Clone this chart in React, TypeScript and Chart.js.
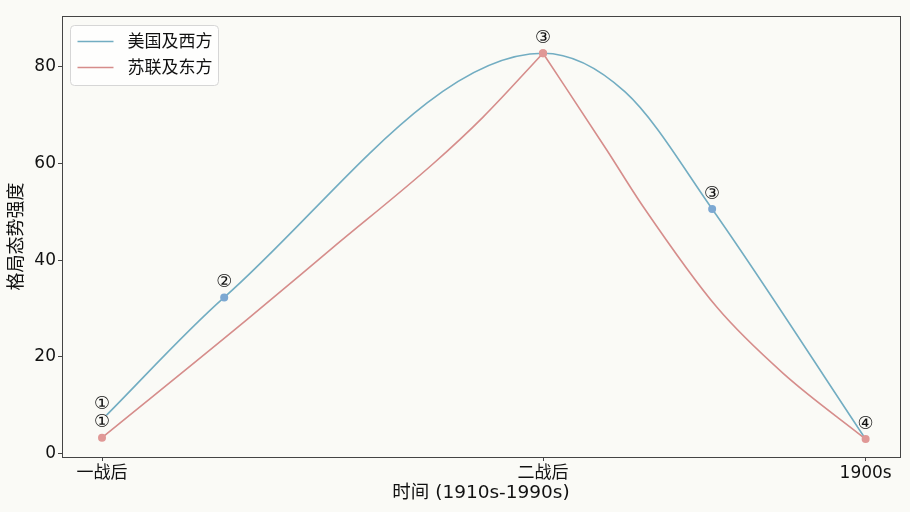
import React, { useEffect, useRef } from 'react';
import { Chart, registerables } from 'chart.js';

Chart.register(...registerables);

// ---- data ----
const seriesNames = ['美国及西方', '苏联及东方'];
const xTickValues = [0, 57.75, 100];
const xTickLabels = ['一战后', '二战后', '1900s'];
const yTickValues = [0, 20, 40, 60, 80];
const xTitle = '时间 (1910s-1990s)';
const yTitle = '格局态势强度';

const westX = [0, 16.0, 57.75, 68.5, 79.9, 100];
const westY = [7.0, 32.3, 82.8, 74.8, 50.6, 3.0];
const westMarked = [false, true, false, false, true, false];
const westNotes = ['①', '②', '', '', '③', ''];

const eastX = [0, 18.9, 30.3, 43.4, 49.9, 57.75, 66.1, 70.9, 80.5, 89.2, 100];
const eastY = [3.3, 27.6, 42.7, 60.0, 69.6, 82.8, 62.8, 51.0, 30.3, 16.6, 3.0];
const eastMarked = [true, false, false, false, false, true, false, false, false, false, true];
const eastNotes = ['①', '', '', '', '', '③', '', '', '', '', '④'];

const X_MIN = -5.24;
const X_MAX = 104.5;
const Y_MIN = -0.7;
const Y_MAX = 90.5;

export default function App() {
  const ref = useRef<HTMLCanvasElement>(null);

  useEffect(() => {
    const canvas = ref.current!;
    const BG = '#fafaf6';
    const FAMILY = "'DejaVu Sans', 'Noto Sans CJK SC', sans-serif";
    const BLUE = '#72adc2';
    const BLUE_PT = '#7ca8d2';
    const RED = '#d68d8b';
    const RED_PT = '#e09896';
    const AXIS = '#444';

    const pts = (xs: number[], ys: number[], from: number, to: number) =>
      xs.slice(from, to).map((x, i) => ({ x, y: ys[from + i] }));
    const peak = eastY.indexOf(Math.max(...eastY));

    const bgPlugin = {
      id: 'bg',
      beforeDraw(chart: any) {
        const c = chart.ctx;
        c.save();
        c.fillStyle = BG;
        c.fillRect(0, 0, chart.width, chart.height);
        c.restore();
      },
    };

    const framePlugin = {
      id: 'frame',
      afterDraw(chart: any) {
        const { left, right, top, bottom } = chart.chartArea;
        const c = chart.ctx;
        c.save();
        c.strokeStyle = AXIS;
        c.lineWidth = 1;
        c.strokeRect(Math.round(left) + 0.5, Math.round(top) + 0.5, Math.round(right - left), Math.round(bottom - top));
        c.restore();
      },
    };

    const notesPlugin = {
      id: 'notes',
      afterDatasetsDraw(chart: any) {
        const c = chart.ctx;
        const xs = chart.scales.x;
        const ys = chart.scales.y;
        c.save();
        c.font = `18px ${FAMILY}`;
        c.textAlign = 'center';
        c.textBaseline = 'middle';
        const draw = (X: number[], Y: number[], notes: string[]) => {
          notes.forEach((n, i) => {
            if (!n) return;
            const px = xs.getPixelForValue(X[i]);
            const py = ys.getPixelForValue(Y[i]) - 16;
            c.fillStyle = BG;
            c.beginPath();
            c.arc(px, py, 8, 0, Math.PI * 2);
            c.fill();
            c.fillStyle = '#111';
            c.fillText(n, px, py + 1);
          });
        };
        draw(westX, westY, westNotes);
        draw(eastX, eastY, eastNotes);
        c.restore();
      },
    };

    const legendPlugin = {
      id: 'customLegend',
      afterDraw(chart: any) {
        const c = chart.ctx;
        const { left, top } = chart.chartArea;
        const bx = left + 8.5;
        const by = top + 9.5;
        const bw = 148;
        const bh = 60;
        c.save();
        c.fillStyle = 'rgba(255,255,255,0.8)';
        c.strokeStyle = '#d6d6d6';
        c.lineWidth = 1;
        c.beginPath();
        (c as any).roundRect(bx, by, bw, bh, 4);
        c.fill();
        c.stroke();
        const colors = [BLUE, RED];
        c.font = `17px ${FAMILY}`;
        c.textBaseline = 'middle';
        c.textAlign = 'left';
        seriesNames.forEach((name, i) => {
          const ly = by + 16 + i * 26;
          c.strokeStyle = colors[i];
          c.lineWidth = 1.5;
          c.beginPath();
          c.moveTo(bx + 7, ly);
          c.lineTo(bx + 43, ly);
          c.stroke();
          c.fillStyle = '#111';
          c.fillText(name, bx + 57, ly + 1);
        });
        c.restore();
      },
    };

    const common = {
      borderWidth: 1.6,
      pointBorderWidth: 0,
      cubicInterpolationMode: 'monotone',
      fill: false,
    };

    const chart = new Chart(canvas, {
      type: 'line',
      data: {
        datasets: [
          {
            ...common,
            label: seriesNames[1],
            data: pts(eastX, eastY, 0, peak + 1),
            borderColor: RED,
            pointBackgroundColor: RED_PT,
            pointRadius: eastMarked.slice(0, peak + 1).map((m) => (m ? 4 : 0)),
            order: 0,
          },
          {
            ...common,
            label: seriesNames[1] + ' ',
            data: pts(eastX, eastY, peak, eastX.length),
            borderColor: RED,
            pointBackgroundColor: RED_PT,
            pointRadius: eastMarked.slice(peak).map((m) => (m ? 4 : 0)),
            order: 0,
          },
          {
            ...common,
            label: seriesNames[0],
            data: pts(westX, westY, 0, westX.length),
            borderColor: BLUE,
            pointBackgroundColor: BLUE_PT,
            pointRadius: westMarked.map((m) => (m ? 4 : 0)),
            order: 1,
          },
        ],
      },
      options: {
        responsive: false,
        animation: false,
        events: [],
        layout: { padding: { left: 0, top: 16, right: 10, bottom: 0 } },
        plugins: {
          legend: { display: false },
          tooltip: { enabled: false },
        },
        scales: {
          x: {
            type: 'linear',
            min: X_MIN,
            max: X_MAX,
            afterBuildTicks: (s: any) => {
              s.ticks = xTickValues.map((v) => ({ value: v }));
            },
            afterFit: (s: any) => {
              s.height = 55;
            },
            ticks: {
              callback: (_v: any, i: number) => xTickLabels[i],
              font: { family: FAMILY, size: 17 },
              color: '#111',
              padding: 2,
              maxRotation: 0,
              autoSkip: false,
            },
            grid: { display: true, drawOnChartArea: false, drawTicks: true, tickLength: 4, color: AXIS },
            border: { display: false },
            title: {
              display: true,
              text: xTitle,
              font: { family: FAMILY, size: 18.5 },
              color: '#111',
              padding: { top: 0, bottom: 8 },
            },
          },
          y: {
            type: 'linear',
            min: Y_MIN,
            max: Y_MAX,
            afterBuildTicks: (s: any) => {
              s.ticks = yTickValues.map((v) => ({ value: v }));
            },
            afterFit: (s: any) => {
              s.width = 62;
            },
            ticks: {
              callback: (v: any) => String(v),
              font: { family: FAMILY, size: 17 },
              color: '#111',
              padding: 2,
            },
            grid: { display: true, drawOnChartArea: false, drawTicks: true, tickLength: 4, color: AXIS },
            border: { display: false },
            title: {
              display: true,
              text: yTitle,
              font: { family: FAMILY, size: 18 },
              color: '#111',
              padding: { top: 7, bottom: 0 },
            },
          },
        },
      },
      plugins: [bgPlugin, notesPlugin, framePlugin, legendPlugin],
    } as any);

    return () => chart.destroy();
  }, []);

  return (
    <div style={{ position: 'absolute', left: 0, top: 0, width: 910, height: 512 }}>
      <canvas ref={ref} width={910} height={512} style={{ display: 'block' }} />
    </div>
  );
}
